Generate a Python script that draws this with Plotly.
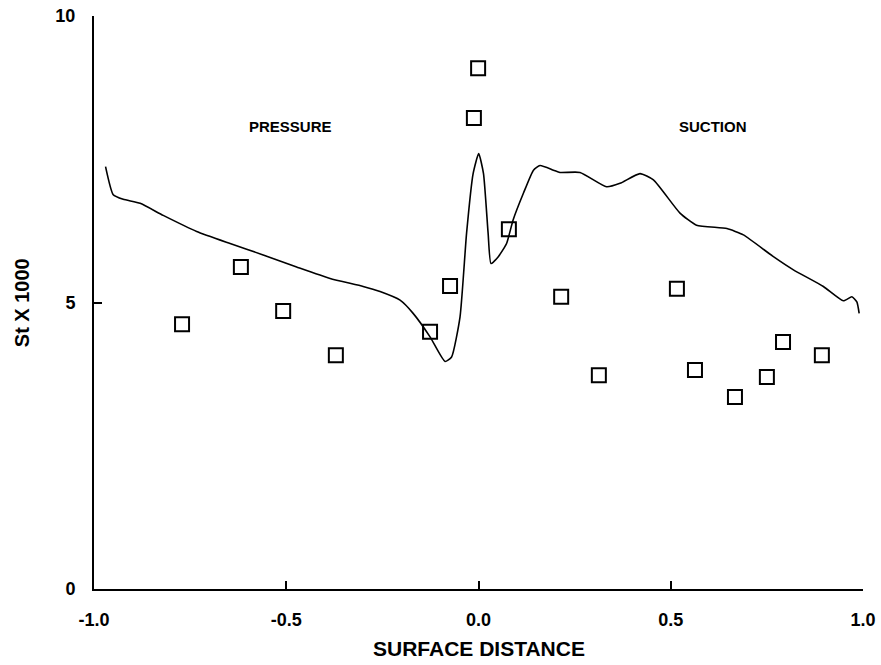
import plotly.graph_objects as go

# Computed curve (St x 1000 vs surface distance)
curve_x = [-0.970, -0.950, -0.924, -0.880, -0.820, -0.733, -0.646, -0.560, -0.473, -0.386,
           -0.300, -0.256, -0.204, -0.170, -0.126, -0.087, -0.070, -0.048, -0.031, -0.014,
           0.0005, 0.013, 0.025, 0.0325, 0.0515, 0.073, 0.090, 0.117, 0.143, 0.160,
           0.195, 0.212, 0.264, 0.333, 0.368, 0.420, 0.455, 0.524, 0.567, 0.646,
           0.689, 0.767, 0.819, 0.897, 0.949, 0.971, 0.984, 0.990]
curve_y = [7.37, 6.88, 6.80, 6.73, 6.52, 6.24, 6.03, 5.83, 5.62, 5.42,
           5.28, 5.19, 5.04, 4.81, 4.40, 3.97, 4.05, 4.75, 6.21, 7.25,
           7.60, 7.25, 6.21, 5.68, 5.80, 6.03, 6.44, 6.91, 7.31, 7.39,
           7.31, 7.27, 7.27, 7.02, 7.08, 7.25, 7.14, 6.56, 6.35, 6.29,
           6.18, 5.80, 5.57, 5.28, 5.03, 5.10, 5.01, 4.81]

# Measured data points
meas_x = [-0.771, -0.618, -0.508, -0.371, -0.126, -0.074, -0.012, -0.001, 0.079,
          0.215, 0.313, 0.516, 0.563, 0.667, 0.750, 0.792, 0.893]
meas_y = [4.62, 5.62, 4.85, 4.08, 4.49, 5.29, 8.22, 9.09, 6.28,
          5.10, 3.73, 5.24, 3.82, 3.35, 3.70, 4.31, 4.08]

x_ticks = [-1.0, -0.5, 0.0, 0.5, 1.0]
x_tick_labels = ["-1.0", "-0.5", "0.0", "0.5", "1.0"]
y_ticks = [0, 5, 10]
y_tick_labels = ["0", "5", "10"]

FONT = "Liberation Sans, Arial, sans-serif"

fig = go.Figure()
fig.add_trace(go.Scatter(x=curve_x, y=curve_y, mode="lines",
                         line=dict(color="black", width=1.6, shape="spline", smoothing=0.5),
                         showlegend=False, hoverinfo="skip"))
fig.add_trace(go.Scatter(x=meas_x, y=meas_y, mode="markers",
                         marker=dict(symbol="square-open", size=14, color="black",
                                     line=dict(width=2, color="black")),
                         showlegend=False))

fig.update_layout(
    width=881, height=665,
    margin=dict(l=94, r=18, t=16, b=76, autoexpand=False),
    paper_bgcolor="white", plot_bgcolor="white",
    font=dict(family=FONT, color="black"),
    xaxis=dict(range=[-1.0, 1.0], showgrid=False, zeroline=False, automargin=False,
               showline=True, linecolor="black", linewidth=2,
               tickmode="array", tickvals=x_ticks, ticktext=x_tick_labels,
               ticks="inside", ticklen=8, tickwidth=1.5, tickcolor="black",
               tickfont=dict(family=FONT, size=18, color="black", weight="bold"),
               ticklabelstandoff=13),
    yaxis=dict(range=[0, 10], showgrid=False, zeroline=False, automargin=False,
               showline=True, linecolor="black", linewidth=2,
               tickmode="array", tickvals=y_ticks, ticktext=y_tick_labels,
               ticks="inside", ticklen=8, tickwidth=1.5, tickcolor="black",
               tickfont=dict(family=FONT, size=18, color="black", weight="bold"),
               ticklabelstandoff=13),
    annotations=[
        dict(text="<b>SURFACE DISTANCE</b>", x=0.5, y=-0.104, xref="paper", yref="paper",
             showarrow=False, xanchor="center", yanchor="middle",
             font=dict(family=FONT, size=21, color="black")),
        dict(text="<b>St X 1000</b>", x=-0.094, y=0.5, xref="paper", yref="paper",
             showarrow=False, xanchor="center", yanchor="middle", textangle=-90,
             font=dict(family=FONT, size=20, color="black")),
        dict(text="<b>PRESSURE</b>", x=-0.49, y=8.08, xref="x", yref="y",
             showarrow=False, font=dict(family=FONT, size=15, color="black")),
        dict(text="<b>SUCTION</b>", x=0.61, y=8.08, xref="x", yref="y",
             showarrow=False, font=dict(family=FONT, size=15, color="black")),
    ],
)

fig.write_html("out.html")
